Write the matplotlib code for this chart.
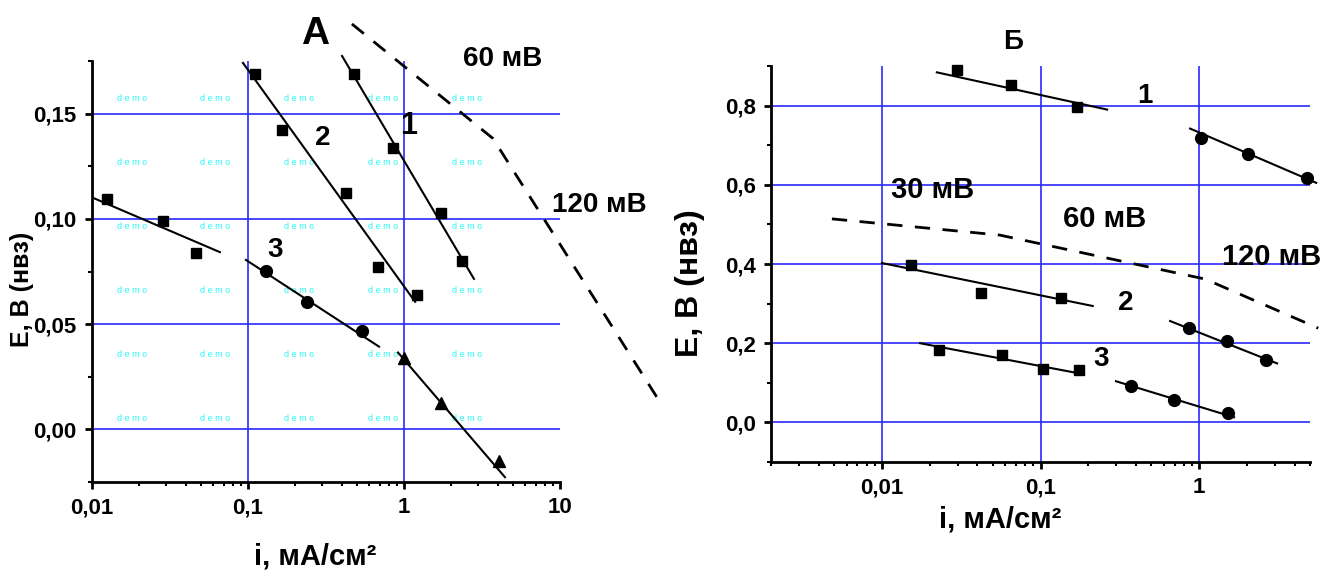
import matplotlib
matplotlib.use("Agg")
import matplotlib.pyplot as plt
import numpy as np

plt.rcParams['font.family'] = ['Liberation Sans', 'DejaVu Sans']
plt.rcParams['font.weight'] = 'bold'

# панель А
a_x1 = [0.0125, 0.0285, 0.0464]
a_y1 = [0.1093, 0.0989, 0.0838]
a_fit1_x = [0.0103, 0.0661]
a_fit1_y = [0.1098, 0.0842]

a_x2 = [0.111, 0.165, 0.425, 0.681, 1.21]
a_y2 = [0.1689, 0.1424, 0.1122, 0.0772, 0.0639]
a_fit2_x = [0.0929, 1.18]
a_fit2_y = [0.1741, 0.0606]

a_x3 = [0.478, 0.849, 1.726, 2.353]
a_y3 = [0.1689, 0.1339, 0.1027, 0.0800]
a_fit3_x = [0.401, 2.81]
a_fit3_y = [0.1774, 0.0715]

a_xc = [0.130, 0.239, 0.538]
a_yc = [0.0753, 0.0606, 0.0469]
a_fitc_x = [0.0971, 0.692]
a_fitc_y = [0.0805, 0.0393]

a_xt = [1.0, 1.726, 4.06]
a_yt = [0.0341, 0.0123, -0.0151]
a_fitt_x = [0.916, 4.44]
a_fitt_y = [0.0365, -0.0227]

a_dash_x = [0.464, 3.72, 41.9]
a_dash_y = [0.1926, 0.1382, 0.0152]

a_yticks = [0.0, 0.05, 0.10, 0.15]
a_ylabels = ['0,00', '0,05', '0,10', '0,15']
a_xticks = [0.01, 0.1, 1, 10]
a_xlabels = ['0,01', '0,1', '1', '10']

# панель Б
b_xs1 = [0.0297, 0.0652, 0.170]
b_ys1 = [0.891, 0.851, 0.797]
b_fs1_x = [0.0222, 0.263]
b_fs1_y = [0.884, 0.790]

b_xc1 = [1.03, 2.04, 4.8]
b_yc1 = [0.719, 0.678, 0.618]
b_fc1_x = [0.877, 5.47]
b_fc1_y = [0.742, 0.605]

b_xs2 = [0.0152, 0.0421, 0.1344]
b_ys2 = [0.397, 0.327, 0.314]
b_fs2_x = [0.01, 0.2133]
b_fs2_y = [0.4025, 0.294]

b_xc2 = [0.865, 1.50, 2.65]
b_yc2 = [0.238, 0.205, 0.157]
b_fc2_x = [0.656, 3.10]
b_fc2_y = [0.256, 0.149]

b_xs3 = [0.0229, 0.0571, 0.1037, 0.175]
b_ys3 = [0.182, 0.170, 0.134, 0.132]
b_fs3_x = [0.0174, 0.188]
b_fs3_y = [0.200, 0.1215]

b_xc3 = [0.372, 0.695, 1.52]
b_yc3 = [0.091, 0.056, 0.023]
b_fc3_x = [0.299, 1.66]
b_fc3_y = [0.104, 0.013]

b_dash_x = [0.00484, 0.0554, 1.09, 5.63]
b_dash_y = [0.514, 0.473, 0.362, 0.238]

b_yticks = [0.0, 0.2, 0.4, 0.6, 0.8]
b_ylabels = ['0,0', '0,2', '0,4', '0,6', '0,8']
b_xticks = [0.01, 0.1, 1]
b_xlabels = ['0,01', '0,1', '1']

GRID = '#2a2aff'

fig = plt.figure(figsize=(13.25, 5.74), dpi=100)
ax1 = fig.add_axes([0.0694, 0.1603, 0.3532, 0.7334])
ax2 = fig.add_axes([0.5819, 0.1951, 0.4068, 0.6899])


def style(ax, xlim, ylim, xt, xl, yt, yl, yminor, fs):
    ax.set_xscale('log')
    ax.set_xlim(*xlim)
    ax.set_ylim(*ylim)
    for s in ['top', 'right']:
        ax.spines[s].set_visible(False)
    for s in ['left', 'bottom']:
        ax.spines[s].set_linewidth(2)
    ax.set_xticks(xt, xl)
    ax.set_yticks(yt, yl)
    ax.set_yticks(yminor, minor=True)
    ax.tick_params(which='major', length=5, width=2, labelsize=fs, pad=6)
    ax.tick_params(which='minor', length=3, width=1.5)
    ax.tick_params(axis='x', which='minor', labelbottom=False)
    for y in yt:
        ax.axhline(y, color=GRID, lw=1.2, zorder=0)
    for x in xt:
        if xlim[0] < x < xlim[1]:
            ax.axvline(x, color=GRID, lw=1.2, zorder=0)


style(ax1, (0.01, 10), (-0.025, 0.175), a_xticks, a_xlabels, a_yticks, a_ylabels,
      np.arange(-0.025, 0.176, 0.025), 16)
style(ax2, (0.002, 5), (-0.1, 0.9), b_xticks, b_xlabels, b_yticks, b_ylabels,
      np.arange(-0.1, 0.91, 0.1), 16)

# водяные знаки demo
for i in range(5):
    for j in range(6):
        ax1.text(0.085 + 0.179 * i, 0.912 - 0.1524 * j, 'd e m o', color='#30f4f4',
                 fontsize=6.5, fontweight='normal', ha='center', va='center',
                 transform=ax1.transAxes, zorder=0)

lk = dict(color='black', lw=1.5, clip_on=False)
sq = dict(marker='s', ms=7.5, color='black', ls='none', clip_on=False)
ci = dict(marker='o', ms=8.5, color='black', ls='none', clip_on=False)
tr = dict(marker='^', ms=9, color='black', ls='none', clip_on=False)
dk = dict(color='black', lw=2, ls=(0, (5.5, 4.5)), clip_on=False)

ax1.plot(a_fit1_x, a_fit1_y, **lk)
ax1.plot(a_x1, a_y1, **sq)
ax1.plot(a_fit2_x, a_fit2_y, **lk)
ax1.plot(a_x2, a_y2, **sq)
ax1.plot(a_fit3_x, a_fit3_y, **lk)
ax1.plot(a_x3, a_y3, **sq)
ax1.plot(a_fitc_x, a_fitc_y, **lk)
ax1.plot(a_xc, a_yc, **ci)
ax1.plot(a_fitt_x, a_fitt_y, **lk)
ax1.plot(a_xt, a_yt, **tr)
ax1.plot(a_dash_x, a_dash_y, **dk)

ax2.plot(b_fs1_x, b_fs1_y, **lk)
ax2.plot(b_xs1, b_ys1, **sq)
ax2.plot(b_fc1_x, b_fc1_y, **lk)
ax2.plot(b_xc1, b_yc1, **ci)
ax2.plot(b_fs2_x, b_fs2_y, **lk)
ax2.plot(b_xs2, b_ys2, **sq)
ax2.plot(b_fc2_x, b_fc2_y, **lk)
ax2.plot(b_xc2, b_yc2, **ci)
ax2.plot(b_fs3_x, b_fs3_y, **lk)
ax2.plot(b_xs3, b_ys3, **sq)
ax2.plot(b_fc3_x, b_fc3_y, **lk)
ax2.plot(b_xc3, b_yc3, **ci)
ax2.plot(b_dash_x, b_dash_y, **dk)

tk = dict(ha='center', va='center', fontweight='bold', clip_on=False)
ax1.text(0.269, 0.1878, 'А', fontsize=28, **tk)
ax1.text(4.32, 0.176, '60 мВ', fontsize=20, **tk)
ax1.text(17.8, 0.1065, '120 мВ', fontsize=20, **tk)
ax1.text(1.077, 0.1443, '1', fontsize=22, **tk)
ax1.text(0.303, 0.1382, '2', fontsize=20, **tk)
ax1.text(0.149, 0.0852, '3', fontsize=20, **tk)

ax2.text(0.0671, 0.9595, 'Б', fontsize=20, **tk)
ax2.text(0.456, 0.825, '1', fontsize=20, **tk)
ax2.text(0.021, 0.587, '30 мВ', fontsize=21, **tk)
ax2.text(0.255, 0.514, '60 мВ', fontsize=21, **tk)
ax2.text(2.85, 0.4177, '120 мВ', fontsize=21, **tk)
ax2.text(0.346, 0.301, '2', fontsize=20, **tk)
ax2.text(0.241, 0.1595, '3', fontsize=20, **tk)

ax1.text(-0.150, 0.458, 'E, B (нвз)', rotation=90, fontsize=18,
         transform=ax1.transAxes, **tk)
ax1.text(0.476, -0.176, 'i, мА/см²', fontsize=21, transform=ax1.transAxes, **tk)
ax2.text(-0.150, 0.452, 'E, B (нвз)', rotation=90, fontsize=23,
         transform=ax2.transAxes, **tk)
ax2.text(0.425, -0.146, 'i, мА/см²', fontsize=21, transform=ax2.transAxes, **tk)

fig.savefig('out.png', dpi=100)
